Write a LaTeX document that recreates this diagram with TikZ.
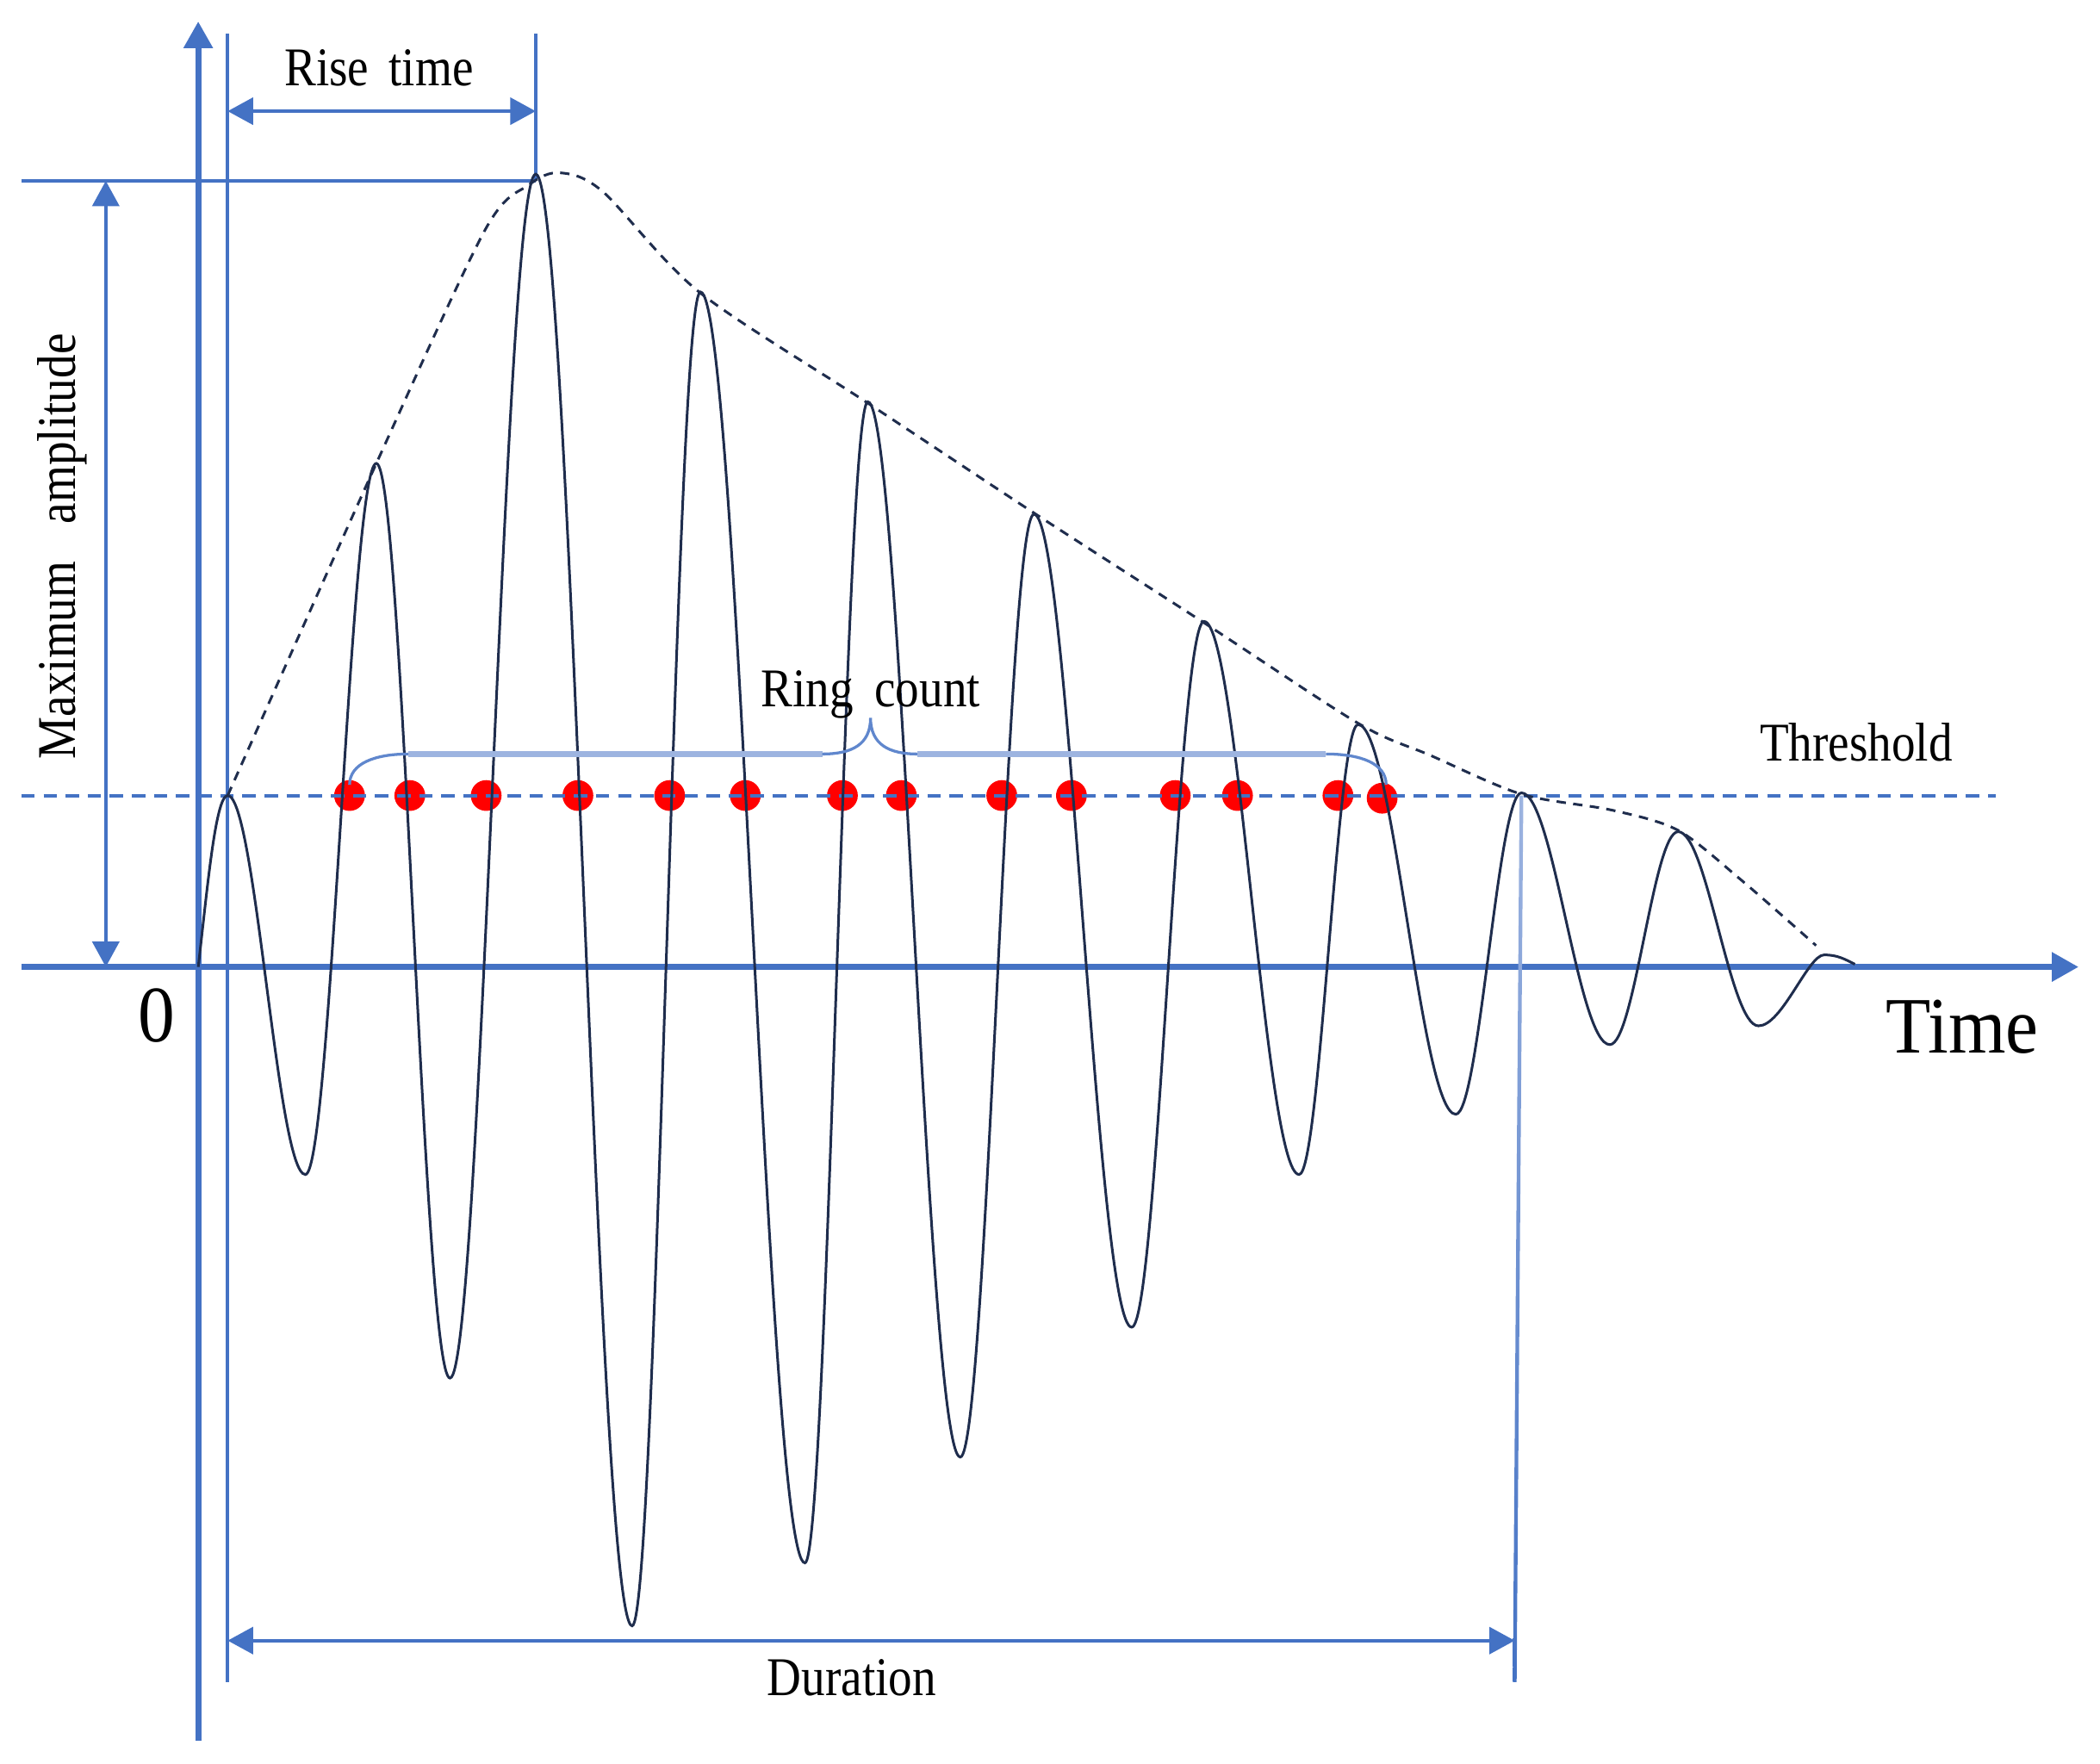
\documentclass[tikz,border=0pt]{standalone}
\usepackage{fontspec}
\setmainfont{Liberation Serif}
\newfontfamily\labfont[FakeStretch=0.87]{Liberation Serif}
\newfontfamily\bigfont[FakeStretch=0.92]{Liberation Serif}
\usetikzlibrary{arrows.meta}
\definecolor{axblue}{HTML}{4472C4}
\definecolor{lightbrace}{HTML}{9DB4E0}
\definecolor{wave}{HTML}{1F2D4D}
\definecolor{dotred}{HTML}{FF0000}
\begin{document}
\begin{tikzpicture}[x=0.1mm, y=-0.1mm,
  axis/.style={axblue, line width=1.3pt, -{Triangle[length=2mm,width=2.1mm]}},
  guide/.style={axblue, line width=0.75pt},
  dimarrow/.style={axblue, line width=0.75pt, {Triangle[length=1.9mm,width=2mm]}-{Triangle[length=1.9mm,width=2mm]}},
  lbl/.style={font=\labfont\fontsize{11.6pt}{13pt}\selectfont, inner sep=0pt, anchor=base},
  big/.style={font=\bigfont\fontsize{17pt}{19pt}\selectfont, inner sep=0pt, anchor=base},
  dot/.style={circle, fill=dotred, inner sep=0pt, minimum size=2.3mm},
  thresh/.style={axblue, line width=0.75pt, dash pattern=on 1mm off 0.65mm},
  env/.style={wave, line width=0.55pt, dash pattern=on 0.7mm off 0.55mm},
  wavestyle/.style={wave, line width=0.55pt},
  bracethin/.style={axblue!85!white, line width=0.6pt},
  bracethick/.style={lightbrace, line width=1.3pt}]
\useasboundingbox (0,0) rectangle (1568,1317);
% key points
\coordinate (O) at (148,722);
\coordinate (yb) at (148,1300);
\coordinate (yt) at (148,16);
\coordinate (xl) at (16,722);
\coordinate (xr) at (1552,722);
\coordinate (thl) at (16,594);
\coordinate (thr) at (1490,594);
\coordinate (rt1top) at (170,25);
\coordinate (rt1bot) at (170,1256);
\coordinate (rt2top) at (400,25);
\coordinate (peak) at (400,135);
\coordinate (mal) at (16,135);
\coordinate (ma1) at (79,135);
\coordinate (ma2) at (79,722);
\coordinate (ra1) at (170,83);
\coordinate (ra2) at (400,83);
\coordinate (du1) at (170,1225);
\coordinate (du2) at (1131,1225);
% guides and axes
\draw[guide] (rt1bot) -- (rt1top);
\draw[guide] (peak) -- (rt2top);
\draw[guide] (mal) -- (peak);
\draw[axis] (xl) -- (xr);
\draw[axis] (yb) -- (yt);
\draw[dimarrow] (ra1) -- (ra2);
\draw[dimarrow] (ma1) -- (ma2);
\draw[dimarrow] (du1) -- (du2);
\shade[top color=lightbrace, bottom color=axblue] (1134.6,594) -- (1137.4,594) -- (1132.4,1256) -- (1129.6,1256) -- cycle;
% ring-count dots
\foreach \n/\px/\py in {1/261/594, 2/306/594, 3/363/594, 4/431.5/594, 5/500/594, 6/556.5/594, 7/629/594, 8/673/594, 9/748/594, 10/800/594, 11/877.5/594, 12/924/594, 13/999/594, 14/1032/596}
  \node[dot] (d\n) at (\px,\py) {};
% threshold
\draw[thresh] (thl) -- (thr);
% waveform
\draw[wavestyle] (O) .. controls +(7,-60) and +(-9,0) .. (170,594)
 .. controls +(20.9,0) and +(-20.9,0) .. (228,877)
 .. controls +(19.1,0) and +(-19.1,0) .. (281,346)
 .. controls +(19.8,0) and +(-19.8,0) .. (336,1029)
 .. controls +(23,0) and +(-23,0) .. (400,130)
 .. controls +(25.9,0) and +(-25.9,0) .. (472,1214)
 .. controls +(18.4,0) and +(-18.4,0) .. (523,218)
 .. controls +(28.1,0) and +(-28.1,0) .. (601,1167)
 .. controls +(16.9,0) and +(-16.9,0) .. (648,300)
 .. controls +(24.8,0) and +(-24.8,0) .. (717,1088)
 .. controls +(19.8,0) and +(-19.8,0) .. (772,384)
 .. controls +(26.3,0) and +(-26.3,0) .. (845,991)
 .. controls +(19.4,0) and +(-19.4,0) .. (899,464)
 .. controls +(25.6,0) and +(-25.6,0) .. (970,877)
 .. controls +(15.8,0) and +(-15.8,0) .. (1014,541)
 .. controls +(26.3,0) and +(-26.3,0) .. (1087,832)
 .. controls +(17.6,0) and +(-17.6,0) .. (1136,592)
 .. controls +(23.8,0) and +(-23.8,0) .. (1202,780)
 .. controls +(18.4,0) and +(-18.4,0) .. (1253,621)
 .. controls +(21.6,0) and +(-21.6,0) .. (1313,766)
 .. controls +(17.6,0) and +(-12,0) .. (1362,713)
 .. controls +(10,0) and +(-8,-4) .. (1385,720);
% envelope
\draw[env] plot[smooth, tension=0.5] coordinates {(170,594) (281,346) (362,172) (395,138) (418,129) (450,143) (522,218) (648,301) (772,383) (899,465) (1014,540) (1068,564) (1136,593) (1204,605) (1253,620) (1300,657) (1356,706)};
% brace
\draw[bracethin] (d1.center) ++(0,-8) .. controls (261,570) and (280,563) .. (305,563);
\draw[bracethick] (305,563) -- (614,563);
\draw[bracethin] (614,563) .. controls (636,563) and (650,556) .. (650,536) .. controls (650,556) and (664,563) .. (685,563);
\draw[bracethick] (685,563) -- (990,563);
\draw[bracethin] (990,563) .. controls (1016,563) and (1035,570) .. (1035,586);
% labels
\node[lbl] (rise) at (283,64) {Rise\hspace{1.5mm}time};
\node[lbl] (ring) at (650,528) {Ring\hspace{1.6mm}count};
\node[lbl] (thrlab) at (1386,568) {Threshold};
\node[lbl] (dur) at (636,1266) {Duration};
\node[lbl, rotate=90] (maxamp) at (56,408) {Maximum\hspace{2.8mm}amplitude};
\node[big] (time) at (1465,786) {Time};
\node[big] (zero) at (117,778) {0};
\end{tikzpicture}
\end{document}
